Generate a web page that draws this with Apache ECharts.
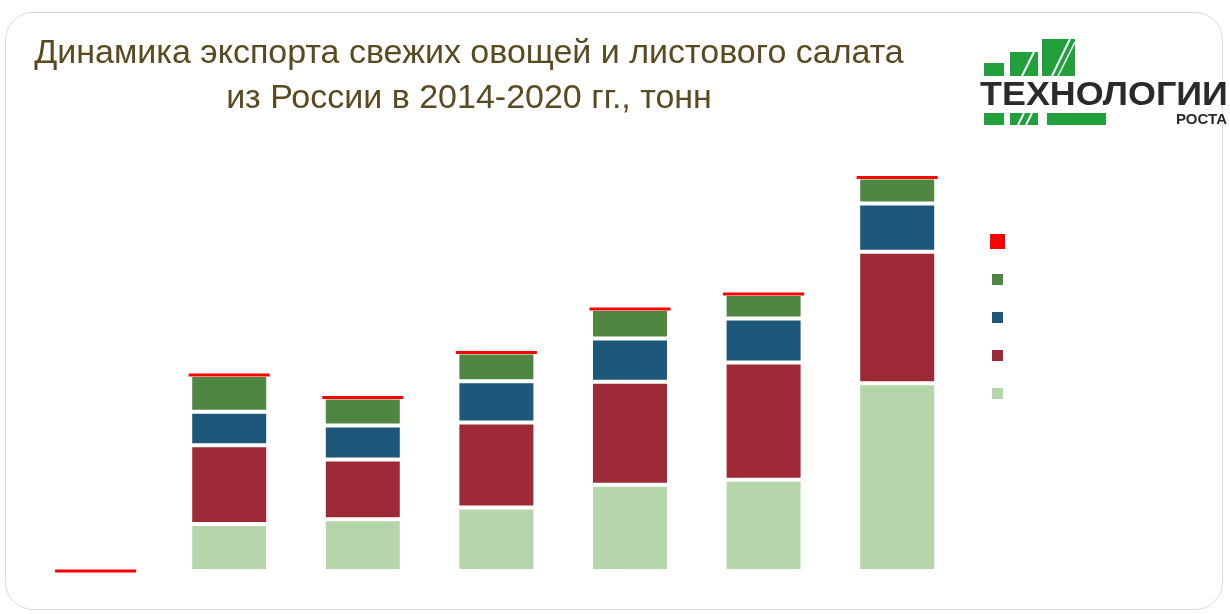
<!DOCTYPE html>
<html lang="ru">
<head>
    <meta charset="UTF-8">
    <script src="https://cdn.jsdelivr.net/npm/echarts@6/dist/echarts.min.js"></script>
    <title>Экспорт овощей</title>
    <style>
        * { margin: 0; padding: 0; }
        body { width: 1230px; height: 614px; background: #fff; position: relative; overflow: hidden; }
        .card {
            position: absolute;
            left: 5px; top: 12px;
            width: 1216px; height: 596px;
            border: 1.5px solid #dadada;
            border-radius: 28px;
        }
        #main { position: absolute; left: 0; top: 0; width: 1230px; height: 614px; }
    </style>
</head>
<body>
<div class="card"></div>
<div id="main"></div>
<script>
    // годы
    var years = ['2014', '2015', '2016', '2017', '2018', '2019', '2020'];
    // экспорт по группам, тонн (оценка по рисунку)
    var seriesNames = ['Всего', 'Группа 4', 'Группа 3', 'Группа 2', 'Группа 1'];
    var group1 = [0, 47000, 51700, 63500, 86300, 91300, 187800];
    var group2 = [0, 78700, 59800, 85000, 103000, 117200, 131500];
    var group3 = [0, 33600, 34000, 41300, 43200, 44000, 48200];
    var group4 = [0, 36700, 28000, 28700, 29500, 24500, 26000];

    var totals = years.map(function (y, i) {
        return group1[i] + group2[i] + group3[i] + group4[i];
    });

    var chartDom = document.getElementById('main');
    var myChart = echarts.init(chartDom);

    var green = '#22a03c';
    function barStyle(color) {
        return { color: color, borderColor: '#fff', borderWidth: 2 };
    }

    var option = {
        animation: false,
        legend: [
            {
                data: [seriesNames[0]],
                left: 990, top: 234,
                itemWidth: 15, itemHeight: 15,
                icon: 'rect',
                padding: 0,
                itemStyle: { borderWidth: 0, opacity: 1 },
                formatter: function () { return ''; },
                textStyle: { fontSize: 8, lineHeight: 8 },
                selectedMode: false
            },
            {
                data: seriesNames.slice(1),
                orient: 'vertical',
                left: 992, top: 274,
                itemWidth: 11, itemHeight: 11,
                itemGap: 27,
                icon: 'rect',
                padding: 0,
                itemStyle: { borderWidth: 0 },
                formatter: function () { return ''; },
                textStyle: { fontSize: 8, lineHeight: 8 },
                selectedMode: false
            }
        ],
        grid: { left: 28.8, right: 266, top: 171, bottom: 43 },
        xAxis: {
            type: 'category',
            data: years,
            show: false
        },
        yAxis: {
            type: 'value',
            min: 0,
            max: 400000,
            show: false
        },
        series: [
            {
                name: seriesNames[4], type: 'bar', stack: 'all',
                barWidth: 78, data: group1, itemStyle: barStyle('#b5d6aa')
            },
            {
                name: seriesNames[3], type: 'bar', stack: 'all',
                barWidth: 78, data: group2, itemStyle: barStyle('#9e2a37')
            },
            {
                name: seriesNames[2], type: 'bar', stack: 'all',
                barWidth: 78, data: group3, itemStyle: barStyle('#1d5779')
            },
            {
                name: seriesNames[1], type: 'bar', stack: 'all',
                barWidth: 78, data: group4, itemStyle: barStyle('#4e8642')
            },
            {
                name: seriesNames[0], type: 'scatter',
                symbol: 'rect', symbolSize: [81, 3],
                itemStyle: { color: '#ff0000', opacity: 1 },
                z: 5,
                data: totals
            }
        ],
        graphic: [
            {
                type: 'text',
                style: {
                    x: 469, y: 54,
                    text: 'Динамика экспорта свежих овощей и листового салата',
                    font: '34px "Liberation Sans"',
                    fill: '#5b4a1f',
                    align: 'center', verticalAlign: 'middle'
                }
            },
            {
                type: 'text',
                style: {
                    x: 469, y: 99,
                    text: 'из России в 2014-2020 гг., тонн',
                    font: '34px "Liberation Sans"',
                    fill: '#5b4a1f',
                    align: 'center', verticalAlign: 'middle'
                }
            },
            // логотип
            { type: 'rect', shape: { x: 984, y: 63, width: 20, height: 13 }, style: { fill: green } },
            { type: 'rect', shape: { x: 1010, y: 52, width: 28, height: 24 }, style: { fill: green } },
            { type: 'rect', shape: { x: 1042, y: 39, width: 33, height: 37 }, style: { fill: green } },
            { type: 'line', shape: { x1: 1022, y1: 76, x2: 1034, y2: 52 }, style: { stroke: '#fff', lineWidth: 2 } },
            { type: 'line', shape: { x1: 1052, y1: 76, x2: 1070, y2: 39 }, style: { stroke: '#fff', lineWidth: 2 } },
            { type: 'line', shape: { x1: 1058, y1: 76, x2: 1075, y2: 42 }, style: { stroke: '#fff', lineWidth: 1.5 } },
            {
                type: 'text',
                x: 980, y: 96, scaleX: 1.088,
                style: {
                    x: 0, y: 0,
                    text: 'ТЕХНОЛОГИИ',
                    font: 'bold 33px "Liberation Sans"',
                    fill: '#2a2a2a',
                    align: 'left', verticalAlign: 'middle'
                }
            },
            { type: 'rect', shape: { x: 984, y: 113, width: 20, height: 12 }, style: { fill: green } },
            { type: 'rect', shape: { x: 1010, y: 113, width: 28, height: 12 }, style: { fill: green } },
            { type: 'line', shape: { x1: 1018, y1: 125, x2: 1024, y2: 113 }, style: { stroke: '#fff', lineWidth: 2 } },
            { type: 'line', shape: { x1: 1026, y1: 125, x2: 1032, y2: 113 }, style: { stroke: '#fff', lineWidth: 2 } },
            { type: 'rect', shape: { x: 1047, y: 113, width: 59, height: 12 }, style: { fill: green } },
            {
                type: 'text',
                style: {
                    x: 1227, y: 120,
                    text: 'РОСТА',
                    font: 'bold 15px "Liberation Sans"',
                    fill: '#2a2a2a',
                    align: 'right', verticalAlign: 'middle'
                }
            }
        ]
    };

    option && myChart.setOption(option);
</script>
</body>
</html>
